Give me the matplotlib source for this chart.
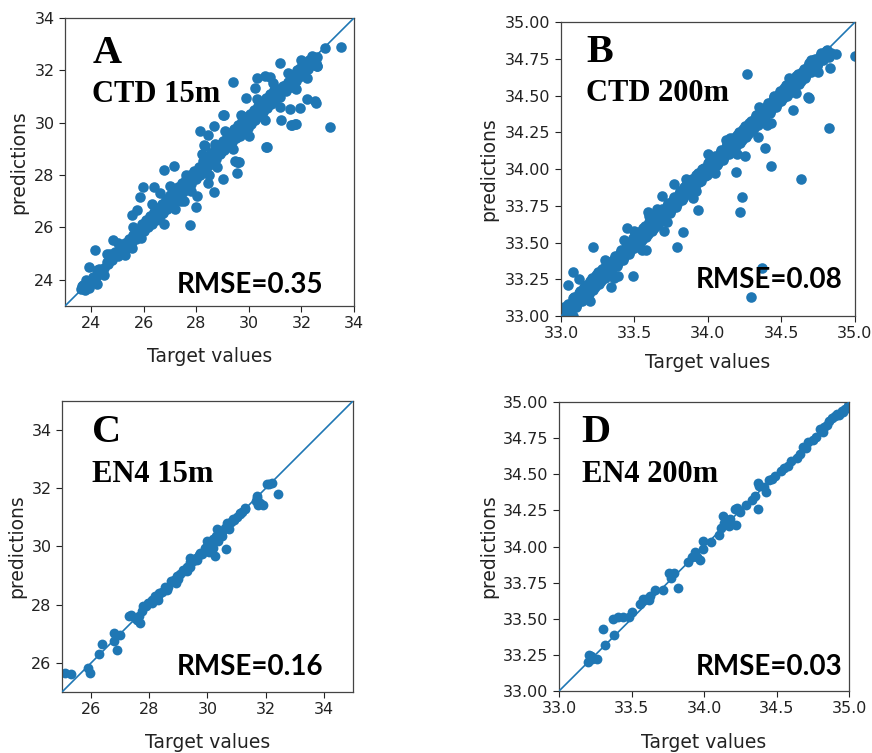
import matplotlib
matplotlib.use("Agg")
import matplotlib.pyplot as plt

# ---------------- Panel A: CTD 15m ----------------
a_target = [23.6, 23.7, 23.75, 23.85, 23.9, 24.0, 24.1, 24.3, 24.5, 24.6, 24.8, 24.9, 25.0, 25.1, 25.2,
            25.3, 25.35, 25.45, 25.5, 25.6, 25.7, 25.8, 25.85, 25.95, 26.0, 26.1, 26.15, 26.25, 26.3, 26.4,
            26.45, 26.55, 26.6, 26.7, 26.75, 26.85, 26.9, 27.0, 27.05, 27.15, 27.2, 27.3, 27.35, 27.45, 27.5,
            27.6, 27.65, 27.75, 27.8, 27.9, 28.0, 28.1, 28.15, 28.25, 28.3, 28.4, 28.45, 28.55, 28.6, 28.7,
            28.75, 28.85, 28.9, 29.0, 29.05, 29.15, 29.2, 29.3, 29.35, 29.45, 29.5, 29.6, 29.65, 29.75, 29.8,
            29.9, 29.95, 30.05, 30.1, 30.2, 30.25, 30.35, 30.4, 30.5, 30.55, 30.65, 30.7, 30.8, 30.85, 30.95,
            31.0, 31.1, 31.2, 31.3, 31.4, 31.5, 31.6, 31.65, 31.7, 31.75, 31.8, 31.85, 31.9, 31.95, 32.0,
            32.05, 32.1, 32.2, 32.25, 32.3, 32.4, 32.5, 32.55, 32.6,
            26.3, 26.6, 27.0, 27.2, 27.4, 27.6, 27.8, 28.2, 28.5, 28.8, 29.1, 29.4, 29.7, 30.0, 30.3, 30.6,
            30.9, 31.2, 31.5, 31.8, 32.0, 32.2, 32.4, 32.6, 25.0, 25.3, 25.6, 25.9, 24.5, 24.7, 24.2, 23.8,
            33.5, 32.9, 33.1, 31.2, 29.4, 30.3, 30.6, 30.8, 32.54, 32.2, 31.95, 31.57, 31.22, 31.6, 31.8,
            30.68, 29.54, 29.6, 29.54, 29.0, 28.69, 28.43, 28.14, 28.3, 28.69, 29.05, 29.9, 30.23, 27.97,
            27.75, 28.01, 27.54, 26.78, 26.78, 27.16, 25.98, 25.86, 26.4, 25.54, 25.75, 24.84, 24.59, 24.14,
            23.91, 24.23, 24.23, 25.54, 28.45, 28.33, 28.7, 29.47, 29.63, 30.65, 31.63, 31.76, 32.5, 29.0,
            30.9, 32.6,
            23.65, 23.8, 24.05, 24.35, 24.65, 24.95, 25.15, 25.25, 25.4, 25.55, 25.65, 25.75, 25.9, 26.05,
            26.2, 26.35, 26.5, 26.65, 26.8, 26.95, 27.1, 27.25, 27.4, 27.55, 27.7, 27.85, 27.95, 28.05, 28.2,
            28.35, 28.5, 28.65, 28.8, 28.95, 29.1, 29.25, 29.4, 29.55, 29.7, 29.85, 30.0, 30.15, 30.3, 30.45,
            30.6, 30.75, 30.9, 31.05, 31.15, 31.25, 31.35, 31.45, 31.55, 31.7, 31.8, 31.9, 32.0, 32.1, 32.15,
            32.3, 32.45]
a_pred = [23.65, 23.8, 23.6, 23.9, 23.7, 23.95, 24.0, 24.4, 24.45, 24.7, 24.75, 25.05, 24.9, 25.2, 25.1,
          25.4, 25.2, 25.55, 25.35, 25.7, 25.55, 25.95, 25.75, 26.15, 25.85, 26.3, 26.0, 26.45, 26.15, 26.6,
          26.3, 26.75, 26.45, 26.9, 26.55, 27.1, 26.7, 27.25, 26.85, 27.4, 27.0, 27.55, 27.2, 27.7, 27.35,
          27.85, 27.5, 28.0, 27.65, 28.15, 27.85, 28.3, 28.0, 28.55, 28.2, 28.7, 28.35, 28.85, 28.5, 29.0,
          28.6, 29.15, 28.8, 29.3, 28.95, 29.45, 29.1, 29.6, 29.25, 29.75, 29.4, 29.9, 29.5, 30.05, 29.65,
          30.2, 29.8, 30.35, 29.95, 30.5, 30.1, 30.65, 30.25, 30.8, 30.4, 30.95, 30.55, 31.1, 30.7, 31.25,
          30.85, 31.3, 31.0, 31.4, 31.2, 31.55, 31.35, 31.7, 31.5, 31.85, 31.6, 32.0, 31.75, 32.1, 31.85,
          32.2, 31.95, 32.3, 32.05, 32.4, 32.2, 32.45, 32.3, 32.15,
          26.9, 27.3, 27.6, 26.7, 27.0, 28.0, 27.4, 28.8, 28.0, 28.3, 29.7, 29.0, 30.3, 29.5, 30.9, 30.1,
          31.5, 30.6, 31.9, 31.3, 32.4, 31.7, 32.55, 32.5, 25.4, 24.95, 26.0, 25.6, 24.2, 25.0, 24.1, 24.0,
          32.88, 32.85, 29.82, 32.3, 31.54, 31.7, 31.8, 31.75, 30.77, 30.9, 30.56, 30.53, 30.1, 29.9, 29.95,
          29.09, 28.5, 28.5, 28.07, 27.85, 27.34, 27.69, 29.7, 29.15, 29.88, 30.3, 30.94, 31.32, 26.77,
          26.09, 27.21, 27.0, 26.13, 28.2, 28.36, 27.56, 27.18, 27.56, 26.47, 26.67, 25.54, 24.97, 25.13,
          24.5, 24.37, 23.83, 25.2, 29.55, 29.1, 29.2, 28.53, 28.5, 29.08, 29.93, 29.95, 30.82, 30.3,
          30.88, 32.17,
          23.75, 23.75, 24.1, 24.3, 24.6, 25.0, 25.1, 25.3, 25.4, 25.5, 25.7, 25.8, 25.85, 26.1,
          26.2, 26.4, 26.5, 26.6, 26.85, 26.95, 27.1, 27.2, 27.45, 27.5, 27.75, 27.8, 28.0, 28.05, 28.25,
          28.3, 28.55, 28.6, 28.85, 28.9, 29.15, 29.2, 29.45, 29.5, 29.75, 29.8, 30.05, 30.1, 30.35, 30.4,
          30.65, 30.7, 30.95, 31.0, 31.2, 31.25, 31.4, 31.4, 31.6, 31.7, 31.85, 31.9, 32.05, 32.1, 32.2,
          32.3, 32.5]

# ---------------- Panel B: CTD 200m ----------------
b_target = [33.01, 33.03, 33.05, 33.06, 33.08, 33.1, 33.12, 33.14, 33.16, 33.18, 33.2, 33.22, 33.24, 33.26,
            33.28, 33.3, 33.32, 33.34, 33.36, 33.38, 33.4, 33.42, 33.44, 33.46, 33.48, 33.5, 33.52, 33.54,
            33.56, 33.58, 33.6, 33.62, 33.64, 33.66, 33.68, 33.7, 33.72, 33.74, 33.76, 33.78, 33.8, 33.82,
            33.84, 33.86, 33.88, 33.9, 33.92, 33.94, 33.96, 33.98, 34.0, 34.02, 34.04, 34.06, 34.08, 34.1,
            34.12, 34.14, 34.16, 34.18, 34.2, 34.22, 34.24, 34.26, 34.28, 34.3, 34.32, 34.34, 34.36, 34.38,
            34.4, 34.42, 34.44, 34.46, 34.48, 34.5, 34.52, 34.54, 34.56, 34.58, 34.6, 34.62, 34.64, 34.66,
            34.68, 34.7, 34.72, 34.74, 34.76, 34.78, 34.8, 34.82, 34.84,
            33.08, 33.12, 33.2, 33.3, 33.36, 33.5, 33.55, 33.65, 33.72, 33.85, 33.92, 34.0, 34.05, 34.15,
            34.2, 34.35, 34.4, 34.55, 34.6, 34.7, 34.75, 34.12, 34.45, 33.6,
            34.265, 35.0, 34.82, 34.83, 34.87, 34.68, 34.69, 34.58, 34.43, 34.34, 34.39, 34.43, 34.25, 34.19,
            34.63, 34.23, 34.22, 33.93, 33.9, 33.83, 33.79, 33.7, 33.58, 33.49, 33.39, 33.34, 33.22, 33.08,
            33.05, 34.37, 34.29, 33.45, 33.43, 33.77, 33.69, 33.59]
b_pred = [33.03, 33.0, 33.08, 33.02, 33.12, 33.06, 33.16, 33.1, 33.2, 33.14, 33.24, 33.18, 33.28, 33.22,
          33.32, 33.26, 33.35, 33.3, 33.39, 33.34, 33.43, 33.38, 33.47, 33.42, 33.51, 33.46, 33.56, 33.5,
          33.6, 33.54, 33.64, 33.58, 33.67, 33.62, 33.71, 33.66, 33.75, 33.7, 33.79, 33.74, 33.83, 33.79,
          33.88, 33.83, 33.92, 33.87, 33.96, 33.91, 34.0, 33.95, 34.04, 33.99, 34.07, 34.03, 34.11, 34.06,
          34.15, 34.1, 34.19, 34.14, 34.23, 34.18, 34.27, 34.22, 34.31, 34.26, 34.35, 34.3, 34.39, 34.34,
          34.43, 34.38, 34.47, 34.42, 34.51, 34.46, 34.55, 34.5, 34.59, 34.54, 34.63, 34.58, 34.66, 34.62,
          34.7, 34.66, 34.74, 34.7, 34.77, 34.74, 34.8, 34.76, 34.79,
          33.0, 33.25, 33.1, 33.38, 33.26, 33.58, 33.45, 33.73, 33.64, 33.93, 33.85, 34.1, 33.97, 34.21,
          34.1, 34.42, 34.3, 34.62, 34.52, 34.74, 34.66, 34.2, 34.5, 33.68,
          34.65, 34.77, 34.28, 34.69, 34.78, 34.49, 34.48, 34.4, 34.31, 34.22, 34.14, 34.02, 34.09, 33.98,
          33.93, 33.81, 33.71, 33.72, 33.8, 33.57, 33.47, 33.58, 33.45, 33.27, 33.27, 33.2, 33.47, 33.3,
          33.21, 33.33, 33.13, 33.6, 33.52, 33.9, 33.82, 33.71]
# extra points of the dense CTD 200m band, as (target, prediction) pairs
b_band = [(33.02, 33.06), (33.04, 33.07), (33.07, 33.04), (33.09, 33.13), (33.11, 33.08), (33.13, 33.17),
          (33.15, 33.12), (33.17, 33.21), (33.19, 33.15), (33.21, 33.26), (33.23, 33.2), (33.25, 33.3),
          (33.27, 33.24), (33.29, 33.33), (33.31, 33.28), (33.33, 33.37), (33.35, 33.32), (33.37, 33.41),
          (33.39, 33.36), (33.41, 33.45), (33.43, 33.4), (33.45, 33.49), (33.47, 33.44), (33.49, 33.53),
          (33.51, 33.48), (33.53, 33.57), (33.55, 33.52), (33.57, 33.61), (33.59, 33.56), (33.61, 33.65),
          (33.63, 33.6), (33.65, 33.69), (33.67, 33.64), (33.69, 33.73), (33.71, 33.68), (33.73, 33.77),
          (33.75, 33.72), (33.77, 33.81), (33.79, 33.76), (33.81, 33.85), (33.83, 33.8), (33.85, 33.89),
          (33.87, 33.84), (33.89, 33.93), (33.91, 33.88), (33.93, 33.97), (33.95, 33.92), (33.97, 34.01),
          (33.99, 33.96), (34.01, 34.05), (34.03, 34.0), (34.05, 34.09), (34.07, 34.04), (34.09, 34.13),
          (34.11, 34.08), (34.13, 34.17), (34.15, 34.12), (34.17, 34.21), (34.19, 34.16), (34.21, 34.25),
          (34.23, 34.2), (34.25, 34.29), (34.27, 34.24), (34.29, 34.33), (34.31, 34.28), (34.33, 34.37),
          (34.35, 34.32), (34.37, 34.41), (34.39, 34.36), (34.41, 34.45), (34.43, 34.4), (34.45, 34.49),
          (34.47, 34.44), (34.49, 34.53), (34.51, 34.48), (34.53, 34.57), (34.55, 34.52), (34.57, 34.61),
          (34.59, 34.56), (34.61, 34.65), (34.63, 34.6), (34.65, 34.68), (34.67, 34.64), (34.69, 34.72),
          (34.71, 34.68), (34.73, 34.75), (34.75, 34.72), (34.77, 34.79), (34.79, 34.76), (34.81, 34.81)]
b_target = b_target + [p[0] for p in b_band]
b_pred = b_pred + [p[1] for p in b_band]

# ---------------- Panel C: EN4 15m ----------------
c_target = [25.1, 25.3, 25.9, 25.97, 26.26, 26.37, 26.77, 26.8, 26.9, 27.0, 27.29, 27.38, 27.57, 27.69,
            27.8, 27.97, 28.09, 28.2, 28.31, 28.92, 29.4, 29.29, 29.74, 30.09, 30.26, 30.03, 30.62, 30.31,
            30.66, 30.89, 31.11, 31.29, 31.69, 31.74, 31.91, 32.03, 32.2, 32.43,
            27.5, 27.65, 27.75, 27.9, 28.0, 28.1, 28.2, 28.35, 28.45, 28.55, 28.65, 28.75, 28.85, 28.95,
            29.05, 29.15, 29.2, 29.3, 29.4, 29.5, 29.6, 29.7, 29.8, 29.9, 30.0, 30.05, 30.1, 30.2, 30.3,
            30.4, 30.5, 30.6, 30.7, 30.8, 30.9, 31.0, 31.1, 31.2, 31.3, 31.65, 31.7, 31.8, 32.1, 29.4,
            29.65, 30.0, 30.2, 30.35, 30.5, 30.75, 29.0, 28.6, 28.3]
c_pred = [25.65, 25.62, 25.83, 25.65, 26.31, 26.65, 26.74, 27.03, 26.43, 26.97, 27.6, 27.63, 27.49, 27.37,
          27.95, 28.06, 28.15, 28.2, 28.29, 28.75, 29.6, 29.15, 29.78, 30.13, 29.67, 29.84, 29.9, 30.59,
          30.81, 30.93, 31.16, 31.33, 31.73, 31.44, 31.44, 32.13, 32.17, 31.82,
          27.55, 27.6, 27.8, 27.95, 28.05, 28.05, 28.3, 28.4, 28.45, 28.6, 28.6, 28.8, 28.85, 29.0,
          29.05, 29.2, 29.15, 29.3, 29.45, 29.5, 29.6, 29.7, 29.75, 29.95, 30.0, 29.8, 30.15, 30.25, 30.35,
          30.45, 30.5, 30.65, 30.75, 30.85, 30.9, 31.0, 31.1, 31.2, 31.3, 31.55, 31.65, 31.5, 32.15, 29.3,
          29.55, 30.2, 29.95, 30.2, 30.35, 30.6, 28.9, 28.5, 28.15]

# ---------------- Panel D: EN4 200m ----------------
d_target = [33.2, 33.22, 33.23, 33.26, 33.3, 33.32, 33.37, 33.38, 33.41, 33.44, 33.48, 33.5, 33.56, 33.58,
            33.6, 33.63, 33.66, 33.72, 33.76, 33.77, 33.79, 33.82, 33.89, 33.94, 33.95, 33.97, 33.99, 33.99,
            34.05, 34.1, 34.13, 34.14, 34.17, 34.18, 34.21, 34.22, 34.23, 34.29, 34.33, 34.35, 34.37, 34.37,
            34.38, 34.41, 34.43, 34.45, 34.49, 34.53, 34.58, 34.6, 34.64, 34.66, 34.68, 34.72, 34.75, 34.77,
            34.8, 34.82, 34.83, 34.86, 34.88, 34.9, 34.92, 34.95, 34.97, 34.99, 35.0, 34.93, 34.96, 34.85,
            34.7, 34.55, 34.47, 34.12, 34.16, 34.25, 33.92, 33.62, 33.21]
d_pred = [33.2, 33.24, 33.22, 33.22, 33.43, 33.32, 33.5, 33.39, 33.51, 33.51, 33.51, 33.55, 33.6, 33.64,
          33.64, 33.66, 33.7, 33.7, 33.82, 33.78, 33.82, 33.71, 33.89, 33.96, 33.93, 33.91, 33.98, 34.04,
          34.03, 34.08, 34.21, 34.16, 34.14, 34.19, 34.26, 34.15, 34.27, 34.29, 34.32, 34.35, 34.26, 34.44,
          34.42, 34.41, 34.38, 34.46, 34.49, 34.52, 34.56, 34.59, 34.61, 34.64, 34.69, 34.72, 34.74, 34.76,
          34.81, 34.79, 34.83, 34.87, 34.89, 34.9, 34.92, 34.94, 34.95, 34.97, 34.99, 34.91, 34.93, 34.84,
          34.68, 34.54, 34.47, 34.13, 34.18, 34.24, 33.93, 33.63, 33.25]

panel_letters = ["A", "B", "C", "D"]
panel_titles = ["CTD 15m", "CTD 200m", "EN4 15m", "EN4 200m"]
rmse_labels = ["RMSE=0.35", "RMSE=0.08", "RMSE=0.16", "RMSE=0.03"]
limits = [(23, 34), (33, 35), (25, 35), (33, 35)]
xticks_list = [[24, 26, 28, 30, 32, 34], [33.0, 33.5, 34.0, 34.5, 35.0],
               [26, 28, 30, 32, 34], [33.0, 33.5, 34.0, 34.5, 35.0]]
yticks_list = [[24, 26, 28, 30, 32, 34], [33.0, 33.25, 33.5, 33.75, 34.0, 34.25, 34.5, 34.75, 35.0],
               [26, 28, 30, 32, 34], [33.0, 33.25, 33.5, 33.75, 34.0, 34.25, 34.5, 34.75, 35.0]]
xfmt = ["{:.0f}", "{:.1f}", "{:.0f}", "{:.1f}"]
yfmt = ["{:.0f}", "{:.2f}", "{:.0f}", "{:.2f}"]
data = [(a_target, a_pred), (b_target, b_pred), (c_target, c_pred), (d_target, d_pred)]

positions = [[0.0745, 0.5936, 0.3314, 0.3825],
             [0.6433, 0.5803, 0.3372, 0.3904],
             [0.0711, 0.0810, 0.3337, 0.3865],
             [0.6411, 0.0823, 0.3326, 0.3838]]
letter_pos = [(0.094, 0.844), (0.085, 0.864), (0.103, 0.860), (0.078, 0.863)]
title_pos = [(0.094, 0.708), (0.085, 0.731), (0.103, 0.722), (0.078, 0.723)]
rmse_pos = [(0.893, 0.044), (0.959, 0.095), (0.897, 0.058), (0.978, 0.055)]
ylabel_x = [-0.128, -0.214, -0.124, -0.21]
xlabel_y = [-0.142, -0.126, -0.141, -0.145]
marker_size = [58, 58, 50, 50]

color = "#1f77b4"
fig = plt.figure(figsize=(8.72, 7.53), dpi=100)
for i in range(4):
    ax = fig.add_axes(positions[i])
    xs, ys = data[i]
    lo, hi = limits[i]
    ax.scatter(xs, ys, s=marker_size[i], color=color, linewidths=0, zorder=2)
    ax.axline((lo, lo), slope=1, color=color, lw=1.2, zorder=3)
    ax.set_xlim(lo, hi)
    ax.set_ylim(lo, hi)
    ax.set_xticks(xticks_list[i])
    ax.set_xticklabels([xfmt[i].format(v) for v in xticks_list[i]])
    ax.set_yticks(yticks_list[i])
    ax.set_yticklabels([yfmt[i].format(v) for v in yticks_list[i]])
    ax.tick_params(labelsize=11.5, length=4, width=0.8, colors="#222222")
    for sp in ax.spines.values():
        sp.set_color("#444444")
        sp.set_linewidth(0.9)
    ax.set_xlabel("Target values", fontsize=13.5, color="#222222")
    ax.set_ylabel("predictions", fontsize=13.5, color="#222222")
    ax.xaxis.set_label_coords(0.5, xlabel_y[i])
    ax.yaxis.set_label_coords(ylabel_x[i], 0.5)
    ax.text(letter_pos[i][0], letter_pos[i][1], panel_letters[i], transform=ax.transAxes,
            family="Liberation Serif", fontweight="bold", fontsize=29, ha="left", va="baseline")
    ax.text(title_pos[i][0], title_pos[i][1], panel_titles[i], transform=ax.transAxes,
            family="Liberation Serif", fontweight="bold", fontsize=22, ha="left", va="baseline")
    ax.text(rmse_pos[i][0], rmse_pos[i][1], rmse_labels[i], transform=ax.transAxes,
            family="Lato", fontweight="bold", fontsize=20, ha="right", va="baseline")

fig.savefig("out.png", dpi=100)
